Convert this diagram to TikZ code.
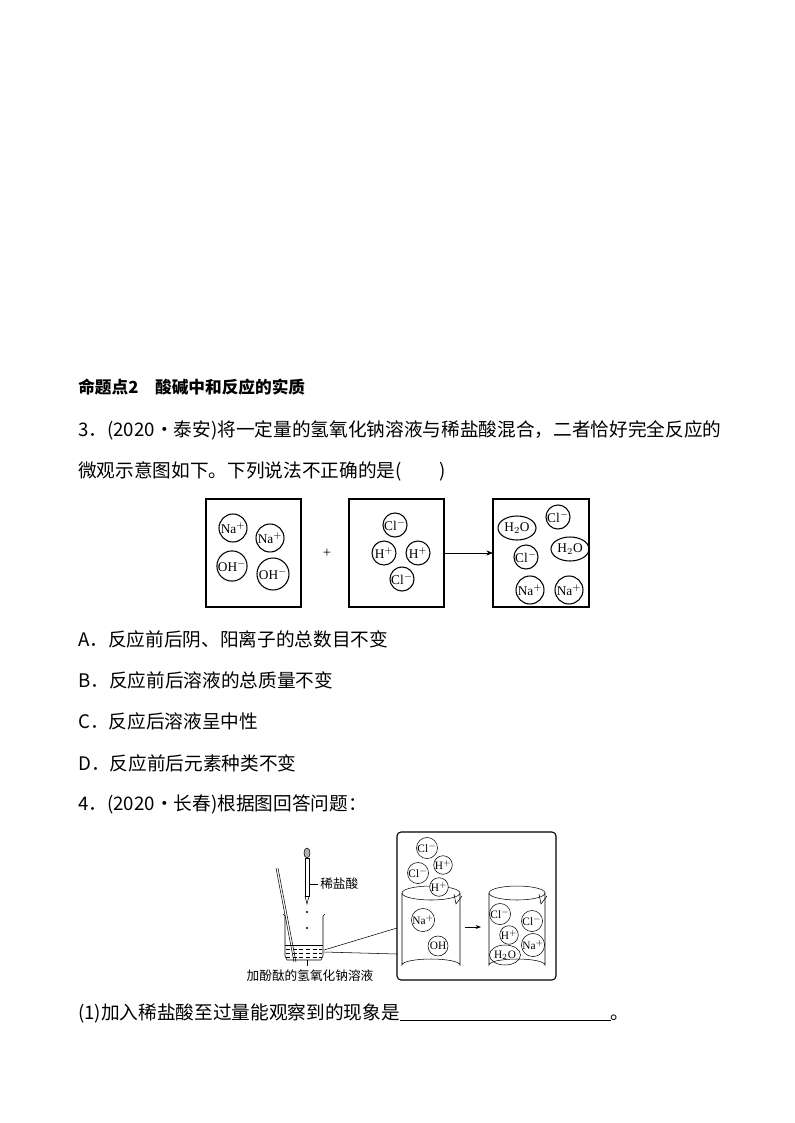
\documentclass[tikz,border=0pt]{standalone}
\usepackage{fontspec}
\setmainfont{Liberation Serif}
\newfontfamily\cjk{Noto Sans CJK SC}
\usetikzlibrary{arrows.meta,shapes.geometric}
\begin{document}
\begin{tikzpicture}[x=0.75pt,y=-0.75pt,
 txt/.style={anchor=west,inner sep=0,font=\cjk\fontsize{14}{16}\selectfont},
 ion/.style={circle,draw,thick,inner sep=0,minimum size=#1*0.75pt,font=\fontsize{10}{11}\selectfont},
 sion/.style={circle,draw,inner sep=0,minimum size=#1*0.75pt,font=\fontsize{8.5}{9}\selectfont},
 mol/.style={ellipse,draw,thick,inner sep=0,minimum width=38*0.75pt,minimum height=24*0.75pt,font=\fontsize{10}{11}\selectfont},
 frame/.style={draw,thick}]
\useasboundingbox (0,0) rectangle (794,1123);
\node[txt,font=\cjk\bfseries\fontsize{12.5}{14}\selectfont] (t0) at (78,387) {命题点2\quad 酸碱中和反应的实质};
\node[txt] (t1) at (78,430) {3．(2020·泰安)将一定量的氢氧化钠溶液与稀盐酸混合，二者恰好完全反应的};
\node[txt] (t2) at (78,471) {微观示意图如下。下列说法不正确的是(\qquad)};
% boxes
\draw[frame] (206,499) rectangle (301,607);
\draw[frame] (349,499) rectangle (444,607);
\draw[frame] (493,499) rectangle (589,607);
\node[font=\fontsize{11}{12}\selectfont] (plus) at (327,553) {+};
\coordinate (a1) at (444,553); \coordinate (a2) at (493,553);
\draw[-{Stealth[length=5pt]}] (a1) -- (a2);
\node[ion=28] (n1) at (233,528) {Na$^+$};
\node[ion=28] (n2) at (270,538) {Na$^+$};
\node[ion=30] (o1) at (232,566) {OH$^-$};
\node[ion=32] (o2) at (273,574) {OH$^-$};
\node[ion=24] (c1) at (395,525) {Cl$^-$};
\node[ion=24] (h1) at (384,553) {H$^+$};
\node[ion=24] (h2) at (418,553) {H$^+$};
\node[ion=24] (c2) at (402,579) {Cl$^-$};
\node[mol] (w1) at (517,528) {H$_2$O};
\node[ion=24] (c3) at (558,517) {Cl$^-$};
\node[ion=24] (c4) at (526,557) {Cl$^-$};
\node[mol] (w2) at (570,549) {H$_2$O};
\node[ion=28] (n3) at (530,590) {Na$^+$};
\node[ion=28] (n4) at (569,590) {Na$^+$};
% options
\node[txt] (A) at (78,639) {A．反应前后阴、阳离子的总数目不变};
\node[txt] (B) at (78,680) {B．反应前后溶液的总质量不变};
\node[txt] (C) at (78,721) {C．反应后溶液呈中性};
\node[txt] (D) at (78,763) {D．反应前后元素种类不变};
\node[txt] (q4) at (78,804) {4．(2020·长春)根据图回答问题：};
% figure 2
\draw[frame,rounded corners=3pt] (397,832) rectangle (556,980);
% beaker
\draw (283,914) -- (285,916) -- (285,956) -- (287,960) -- (321,960) -- (323,956) -- (323,916) -- (325,914);
\draw (285,945) -- (323,945);
\foreach \yy in {949,953,957} \draw[densely dashed] (286,\yy) -- (322,\yy);
\draw (276,868) -- (294,962) (278,868) -- (296,962);
% dropper
\draw[fill=gray!60] (307,853) ellipse (3 and 5);
\draw (305,858) rectangle (309,896);
\draw (305,896) -- (307,904) -- (309,896);
\draw (307,912) circle (0.8) (307,928) circle (0.8);
\draw (309,884) -- (318,884);
\node[font=\cjk\fontsize{9.5}{11}\selectfont,anchor=west,inner sep=0] (xl) at (320,884) {稀盐酸};
\node[font=\cjk\fontsize{9.5}{11}\selectfont,inner sep=0] (bl) at (310,976) {加酚酞的氢氧化钠溶液};
\draw (307,960) -- (307,966);
\draw (324,950) -- (397,928) (324,952) -- (397,954);
% cylinders
\draw (402,893) -- (402,965) arc (180:360:29 and 6) -- (460,893);
\draw (431,893) ellipse (29 and 7);
\draw (489,893) -- (489,965) arc (180:360:28 and 6) -- (545,893);
\draw (517,893) ellipse (28 and 7);
\draw (454,894) -- (456,904) -- (462,896);
\draw (539,894) -- (541,904) -- (547,896);
\coordinate (b1) at (465,927); \coordinate (b2) at (481,927);
\draw[-{Stealth[length=4pt]}] (b1) -- (b2);
\node[sion=20,fill=white] (d1) at (427,848) {Cl$^-$};
\node[sion=18,fill=white] (d2) at (443,865) {H$^+$};
\node[sion=20,fill=white] (d3) at (418,873) {Cl$^-$};
\node[sion=18,fill=white] (d4) at (439,887) {H$^+$};
\node[sion=20] (d5) at (423,920) {Na$^+$};
\node[sion=20] (d6) at (438,946) {OH};
\node[sion=20] (e1) at (500,914) {Cl$^-$};
\node[sion=20] (e2) at (532,921) {Cl$^-$};
\node[sion=18] (e3) at (509,935) {H$^+$};
\node[sion=22] (e4) at (533,945) {Na$^+$};
\node[ellipse,draw,inner sep=0,minimum width=21pt,minimum height=15pt,font=\fontsize{8.5}{9}\selectfont] (e5) at (505,955) {H$_2$O};
\node[txt] (q1) at (78,1013) {(1)加入稀盐酸至过量能观察到的现象是\rule[-1pt]{158pt}{0.4pt}。};
\end{tikzpicture}
\end{document}
